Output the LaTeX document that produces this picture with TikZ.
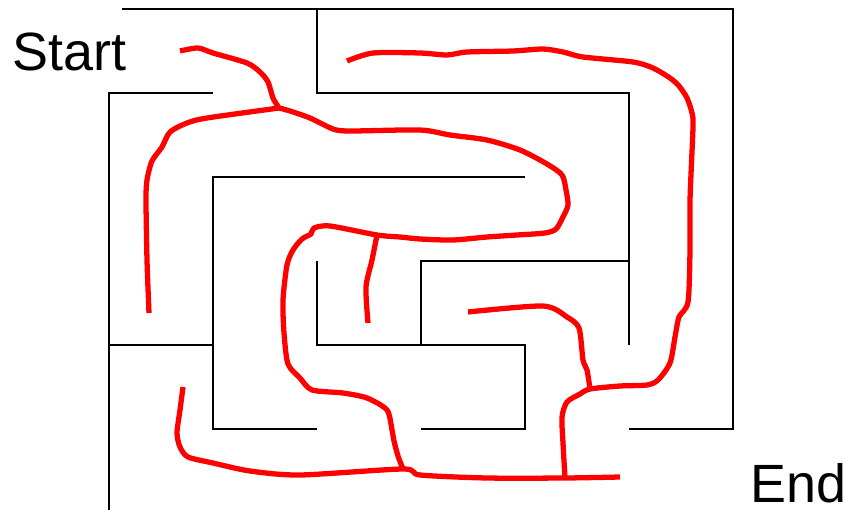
\documentclass[tikz,border=0pt]{standalone}
\usepackage{fontspec}
\setmainfont{Liberation Sans}
\usepackage{tikz}
\usetikzlibrary{positioning}

\begin{document}
\begin{tikzpicture}[
    x=0.03cm, y=-0.03cm,
    wall/.style={draw=black, line width=1.3pt},
    route/.style={draw=red, line width=4.5pt, line join=round, smooth, tension=0.45},
    tag/.style={inner sep=0pt, font=\fontsize{46}{50}\selectfont}
]
\useasboundingbox (0,0) rectangle (845,510);
% labels
\node[tag, anchor=base west] (start) at (12,71) {Start};
\node[tag, anchor=base west] (end) at (750,502) {End};
% maze walls
\draw[wall] (122,9) -- (733,9) -- (733,429) -- (629,429);
\draw[wall] (317,9) -- (317,93) -- (629,93) -- (629,345);
\draw[wall] (213,93) -- (109,93) -- (109,510);
\draw[wall] (525,177) -- (213,177) -- (213,429) -- (317,429);
\draw[wall] (109,345) -- (213,345);
\draw[wall] (317,261) -- (317,345) -- (525,345) -- (525,429) -- (421,429);
\draw[wall] (421,345) -- (421,261) -- (629,261);
% drawn route
\coordinate (fork1) at (279,108);
\coordinate (fork2) at (377,235);
\coordinate (fork3) at (403,469);
\coordinate (fork4) at (565,478);
\coordinate (fork5) at (590,389);
\path[route] plot coordinates {(180,51) (198,48) (213,53) (247,63) (260,72) (268,82) (273,98) (fork1)};
\path[route] plot coordinates {(fork1) (290,111) (310,118) (333,129) (350,131) (420,130) (450,135)
    (487,140) (520,150) (547,164) (562,175) (566,190) (568,205) (563,217) (556,229) (545,233)
    (517,235) (487,237) (453,240) (420,239) (400,237) (fork2) (330,226) (314,228) (311,234)
    (302,239) (293,250) (287,265) (283,300) (284,333) (288,364) (300,378) (312,390) (343,393)
    (367,398) (387,410) (392,430) (394,441) (398,456) (fork3)};
\path[route] plot coordinates {(fork2) (372,260) (366,287) (368,323)};
\path[route] plot coordinates {(fork1) (207,118) (187,123) (170,132) (162,147) (152,161) (147,180)
    (146,200) (147,260) (149,313)};
\path[route] plot coordinates {(183,387) (180,410) (177,433) (180,447) (188,457) (213,463)
    (250,471) (300,475) (fork3) (420,475) (487,478) (fork4) (620,477)};
\path[route] plot coordinates {(fork4) (563,443) (562,417) (567,402) (580,394) (fork5) (620,386)
    (647,385) (658,380) (670,363) (675,337) (679,317) (688,302) (690,250) (690,200) (693,127)
    (692,113) (687,98) (679,86) (670,78) (653,68) (633,62) (583,57) (563,52) (543,49) (513,51)
    (467,52) (447,55) (420,53) (373,53) (347,61)};
\path[route] plot coordinates {(fork5) (587,370) (583,360) (579,328) (567,317) (543,306) (468,312)};
\end{tikzpicture}
\end{document}
